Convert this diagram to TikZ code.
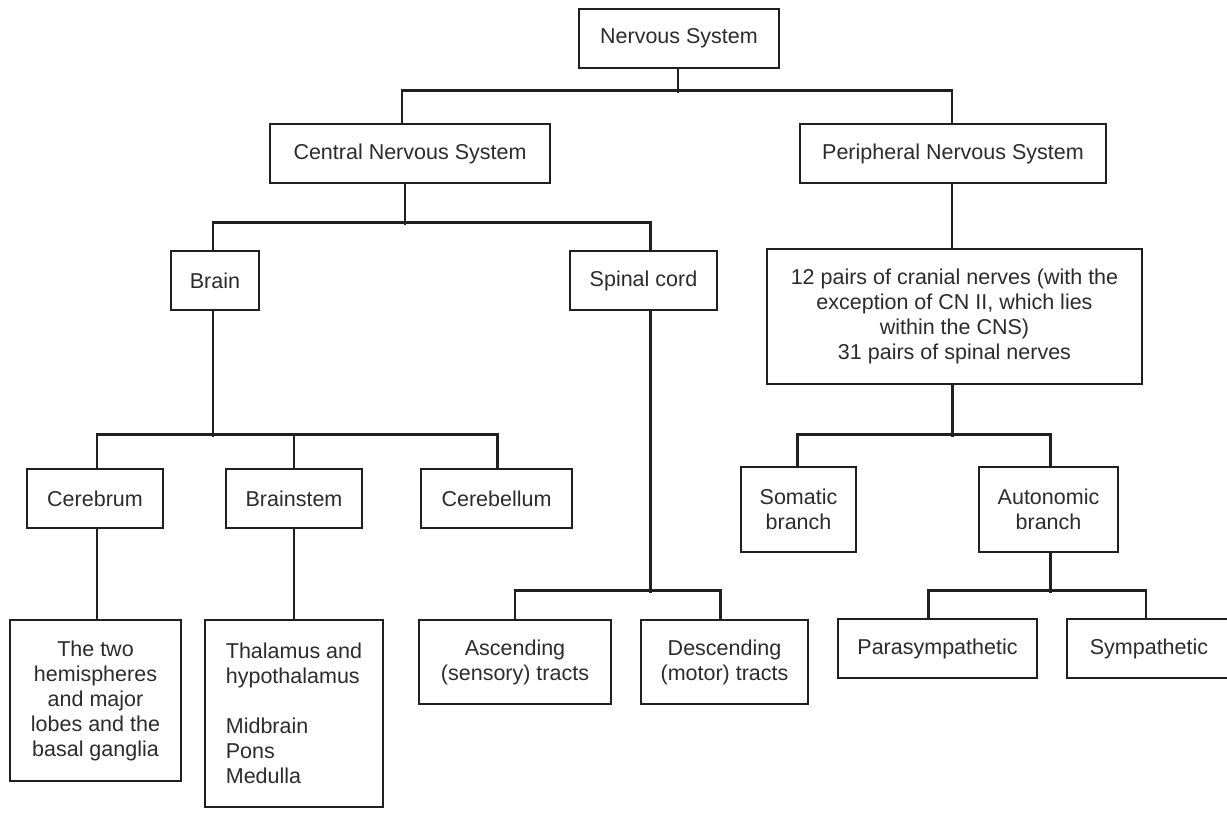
\documentclass[tikz,border=0pt]{standalone}
\usepackage{fontspec}
\setmainfont{Liberation Sans}
\definecolor{inkc}{RGB}{35,31,32}
\definecolor{txtc}{RGB}{45,42,43}
\begin{document}
\begin{tikzpicture}[x=1pt,y=-1pt,
  box/.style={draw=inkc, line width=2.8pt, inner sep=0pt, align=center, text=txtc,
    font=\fontsize{21.5pt}{25pt}\selectfont},
  link/.style={draw=inkc, line width=2.8pt}]
\useasboundingbox (0,0) rectangle (1227,812);
% level 0
\node[box, minimum width=200pt, minimum height=59pt] (ns) at (679,38.5) {Nervous System};
% level 1
\node[box, minimum width=280pt, minimum height=59pt] (cns) at (410,153.5) {Central Nervous System};
\node[box, minimum width=306pt, minimum height=59pt] (pns) at (953,153.5) {Peripheral Nervous System};
% level 2
\node[box, minimum width=88pt, minimum height=59pt] (brain) at (215,280.5) {Brain};
\node[box, minimum width=147pt, minimum height=59pt] (spinal) at (643.5,280.5) {Spinal cord};
\node[box, minimum width=375pt, minimum height=135pt] (cranial) at (954.5,316.5)
  {12 pairs of cranial nerves (with the\\exception of CN II, which lies\\within the CNS)\\31 pairs of spinal nerves};
% level 3
\node[box, minimum width=136pt, minimum height=59pt] (cerebrum) at (95,498.5) {Cerebrum};
\node[box, minimum width=136pt, minimum height=59pt] (brainstem) at (294,498.5) {Brainstem};
\node[box, minimum width=151pt, minimum height=59pt] (cerebellum) at (496.5,498.5) {Cerebellum};
\node[box, minimum width=115pt, minimum height=85pt] (somatic) at (798.5,509.5) {Somatic\\branch};
\node[box, minimum width=139pt, minimum height=85pt] (auto) at (1048.5,509.5) {Autonomic\\branch};
% level 4
\node[box, minimum width=171pt, minimum height=161pt] (hemi) at (95.5,700.5)
  {The two\\hemispheres\\and major\\lobes and the\\basal ganglia};
\node[box, align=left, minimum width=178pt, minimum height=187pt] (thal) at (294,713.5)
  {Thalamus and\\hypothalamus\\[25pt]Midbrain\\Pons\\Medulla};
\node[box, minimum width=192pt, minimum height=84pt] (asc) at (515,662) {Ascending\\(sensory) tracts};
\node[box, minimum width=167pt, minimum height=84pt] (desc) at (724.5,662) {Descending\\(motor) tracts};
\node[box, minimum width=199pt, minimum height=59pt] (para) at (937.5,648.5) {Parasympathetic};
\node[box, minimum width=164pt, minimum height=59pt] (symp) at (1149,648.5) {Sympathetic};
% connectors
\draw[link] ([xshift=-1pt]ns.south) -- ++(0,24);
\draw[link] ([xshift=-8pt]cns.north) -- ++(0,-32) -| ([xshift=-1pt]pns.north);
\draw[link] ([xshift=-5pt]cns.south) -- ++(0,41);
\draw[link] ([xshift=-2pt]brain.north) -- ++(0,-27) -| ([xshift=7pt]spinal.north);
\draw[link] ([xshift=-1pt]pns.south) -- ([xshift=-1pt]pns.south |- cranial.north);
\draw[link] ([xshift=-2pt]brain.south) -- ++(0,126);
\draw[link] ([xshift=2pt]cerebrum.north) -- ++(0,-33) -| ([xshift=1pt]cerebellum.north);
\draw[link] (brainstem.north) -- ++(0,-33);
\draw[link] ([xshift=2pt]cerebrum.south) -- ([xshift=2pt]cerebrum.south |- hemi.north);
\draw[link] (brainstem.south) -- (thal.north);
\draw[link] ([xshift=7pt]spinal.south) -- ++(0,282);
\draw[link] (asc.north) -- ++(0,-28) -| ([xshift=-4pt]desc.north);
\draw[link] ([xshift=-2pt]cranial.south) -- ++(0,52);
\draw[link] ([xshift=-1pt]somatic.north) -- ++(0,-31) -| ([xshift=2pt]auto.north);
\draw[link] ([xshift=2pt]auto.south) -- ++(0,40);
\draw[link] ([xshift=-9pt]para.north) -- ++(0,-27) -| ([xshift=-3pt]symp.north);
\end{tikzpicture}
\end{document}
